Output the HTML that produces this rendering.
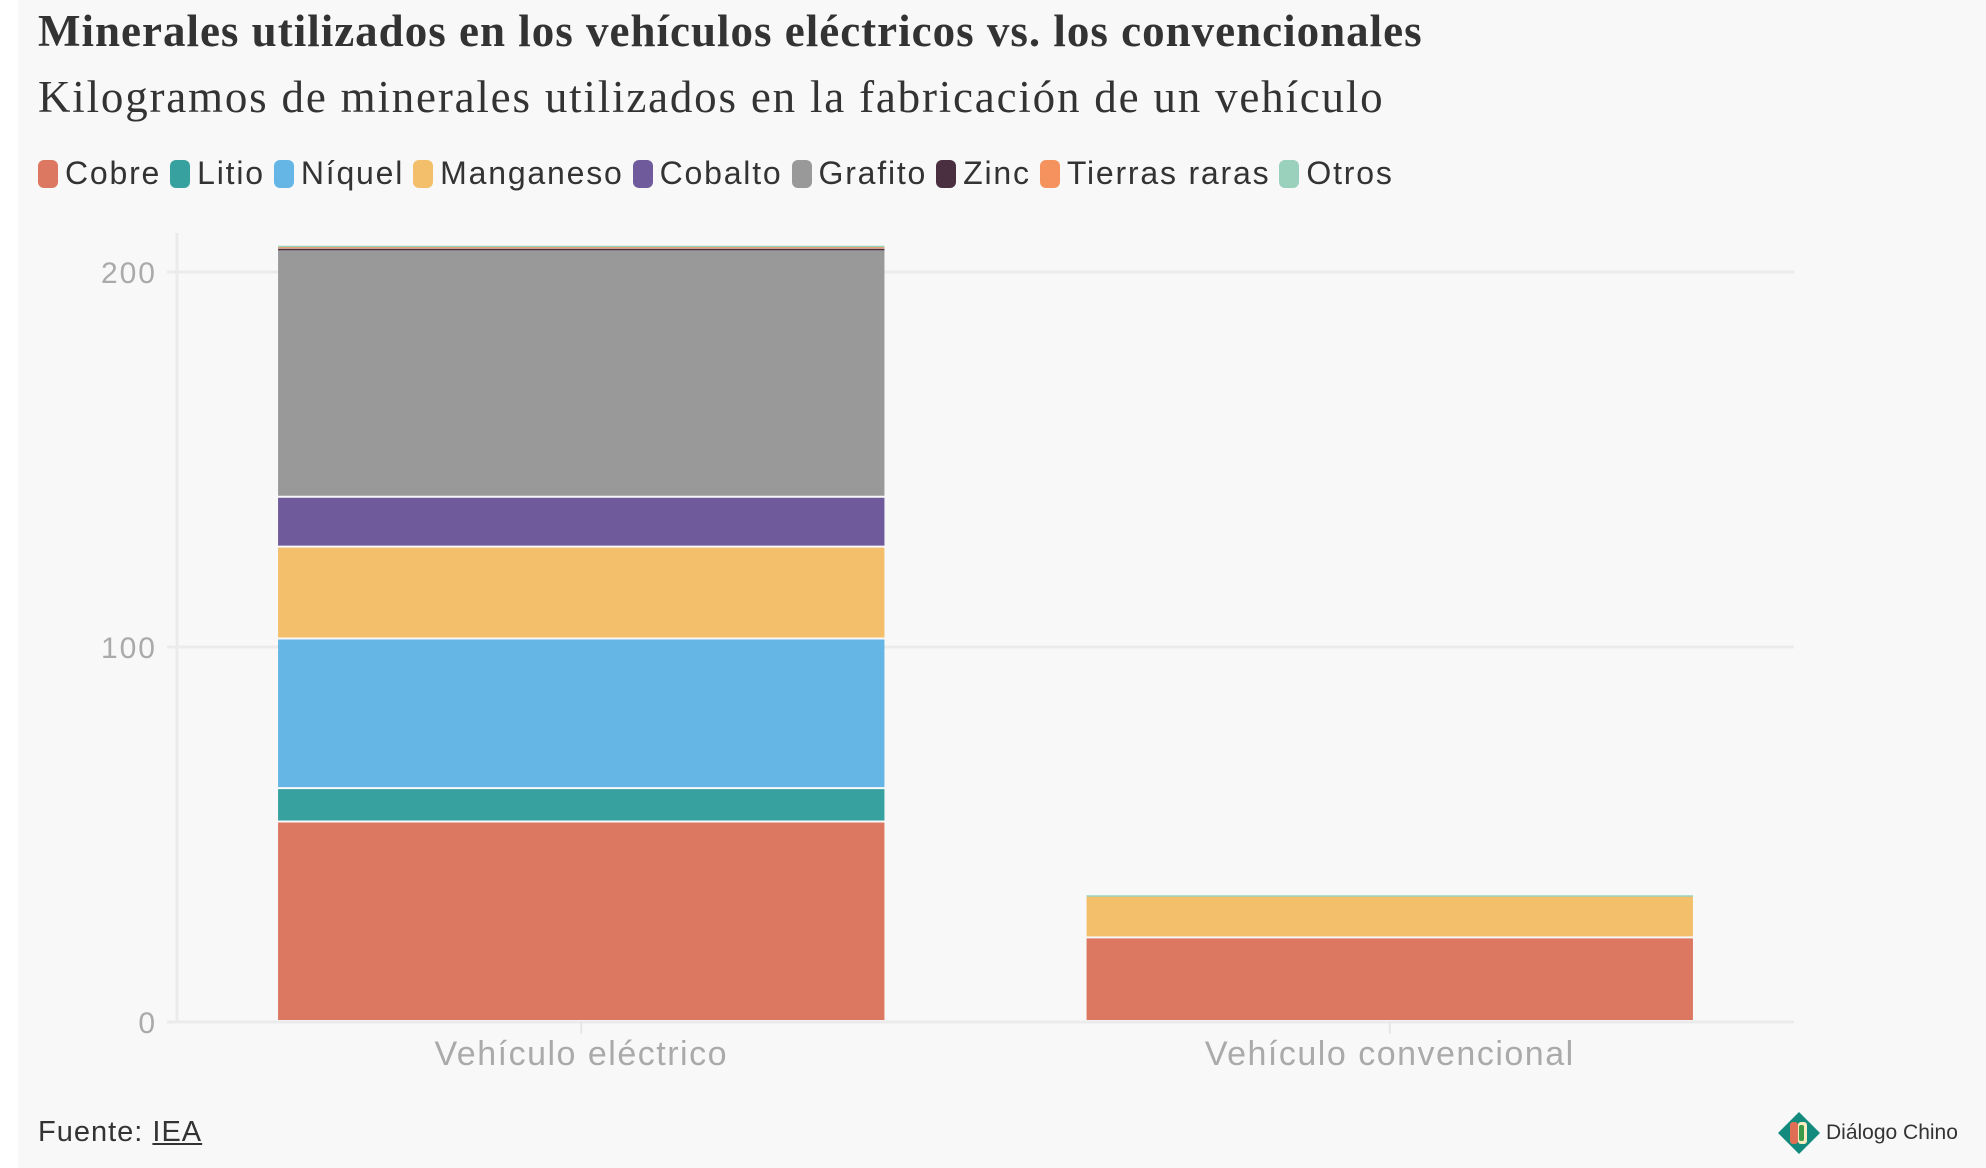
<!DOCTYPE html>
<html><head><meta charset="utf-8"><style>
body{margin:0;width:1986px;height:1168px;background:#fff;overflow:hidden}
#bg{position:absolute;left:18px;top:0;width:1968px;height:1168px;background:#f8f8f8}
.t{position:absolute;font-family:"Liberation Serif",serif;color:#333;white-space:nowrap}
#legend{position:absolute;left:38px;top:155px;font-family:"Liberation Sans",sans-serif;font-size:32px;letter-spacing:1.8px;color:#333;display:flex;white-space:nowrap}
.li{display:flex;align-items:center;margin-right:9px}
.sw{width:20px;height:28px;border-radius:6px;margin-right:7px}
</style></head><body>
<div id="bg"></div>
<div class="t" style="left:38px;top:5px;font-size:45px;font-weight:bold;letter-spacing:1px">Minerales utilizados en los vehículos eléctricos vs. los convencionales</div>
<div class="t" style="left:38px;top:71px;font-size:45px;letter-spacing:1.8px">Kilogramos de minerales utilizados en la fabricación de un vehículo</div>
<div id="legend"></div>
<svg id="chart" width="1986" height="1168" style="position:absolute;left:0;top:0"></svg>
<div class="t" style="left:38px;top:1116px;font-family:'Liberation Sans',sans-serif;font-size:29px;letter-spacing:1px">Fuente: <u>IEA</u></div>
<div style="position:absolute;left:1778px;top:1112px;display:flex;align-items:center;font-family:'Liberation Sans',sans-serif;font-size:21px;color:#333">
<svg width="42" height="42"><polygon points="21,0 42,21 21,42 0,21" fill="#138a7e"/><rect x="12" y="10" width="8" height="22" rx="3" fill="#e06e55"/><rect x="20" y="10" width="9" height="22" rx="3" fill="#f6ecc0"/><rect x="21" y="13" width="5" height="16" rx="2" fill="#3a9a4a"/></svg>
<span style="margin-left:6px">Diálogo Chino</span></div>
<script>
const categories=["Vehículo eléctrico","Vehículo convencional"];
const seriesNames=["Cobre","Litio","Níquel","Manganeso","Cobalto","Grafito","Zinc","Tierras raras","Otros"];
const seriesColors=["#dc7762","#37a19f","#65b5e5","#f4bf6b","#6f5a9b","#999999","#4a2f40","#f5925e","#99d1bd"];
const cobre=[53.2,22.3];
const litio=[8.9,0];
const niquel=[39.9,0];
const manganeso=[24.5,11.2];
const cobalto=[13.3,0];
const grafito=[66.3,0];
const zinc=[0.1,0];
const tierras=[0.5,0];
const otros=[0.3,0.3];
const series=[cobre,litio,niquel,manganeso,cobalto,grafito,zinc,tierras,otros];
const yTicks=[0,100,200];
const NS="http://www.w3.org/2000/svg";
const svg=document.getElementById('chart');
const x0=177,x1=1794,y0=1022,pxPerUnit=3.75;
const y=v=>y0-v*pxPerUnit;
const bandW=(x1-x0)/categories.length;
const bx=i=>x0+bandW*i+bandW*0.125;
const bw=bandW*0.75;
function mk(tag,attrs){const e=document.createElementNS(NS,tag);for(const k in attrs)e.setAttribute(k,attrs[k]);svg.appendChild(e);return e;}
yTicks.forEach(t=>{
 const l=mk('line',{x1:x0-10,x2:x1,y1:y(t),y2:y(t),stroke:'#ebebeb','stroke-width':3});
 
 
 const tx=mk('text',{x:x0-20,y:y(t)+11,'text-anchor':'end','font-family':'Liberation Sans, sans-serif','font-size':30,'letter-spacing':2,fill:'#aaa'});
 tx.textContent=t;
 
 
});
const ax=mk('line',{x1:x0,x2:x0,y1:233,y2:y0,stroke:'#ebebeb','stroke-width':3});


categories.forEach((c,i)=>{
 let cum=0;
 series.forEach((s,k)=>{
  const v=s[i]; if(v<=0)return;
  const r=mk('rect',{x:bx(i),width:bw,y:y(cum+v),height:Math.max(v*pxPerUnit-2,1.5),fill:seriesColors[k]});
  
  
  cum+=v;
 });
 const cx=x0+bandW*(i+0.5);
 const tk=mk('line',{x1:cx,x2:cx,y1:y0,y2:y0+12,stroke:'#e6e6e6','stroke-width':2});
 
 
 const t=mk('text',{x:cx,y:y0+43,'text-anchor':'middle','font-family':'Liberation Sans, sans-serif','font-size':34,'letter-spacing':1.5,fill:'#aaa'});
 t.textContent=c;
 
 
});
const lg=document.getElementById('legend');
seriesNames.forEach((n,k)=>{
 const d=document.createElement('div');d.className='li';
 
 
 d.innerHTML='<div class="sw" style="background:'+seriesColors[k]+'"></div>'+n;
 lg.appendChild(d);
});
</script>
</body></html>
